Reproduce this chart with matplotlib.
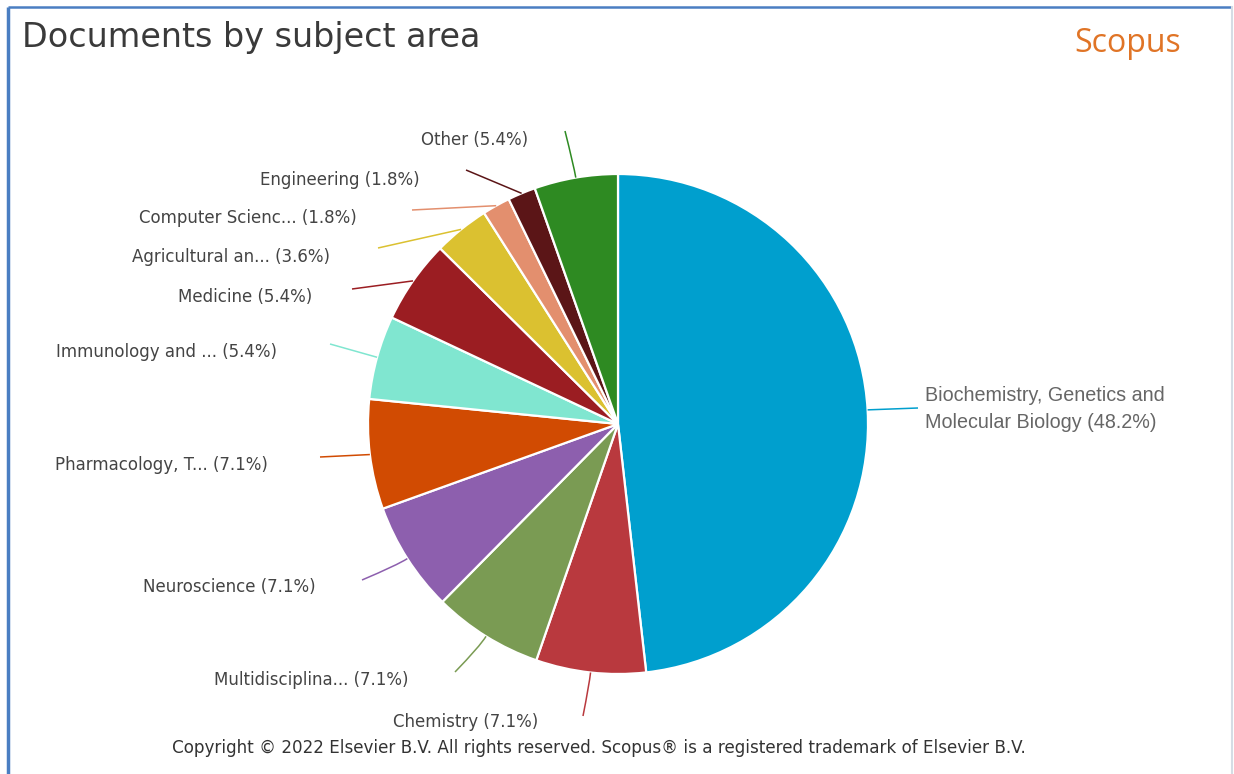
import matplotlib
matplotlib.use("Agg")
import matplotlib.pyplot as plt
from matplotlib.path import Path
from matplotlib.patches import PathPatch
import numpy as np

# ---- data ----
categories = ["Biochemistry, Genetics and\nMolecular Biology", "Chemistry", "Multidisciplina...",
              "Neuroscience", "Pharmacology, T...", "Immunology and ...", "Medicine",
              "Agricultural an...", "Computer Scienc...", "Engineering", "Other"]
shares = [48.2, 7.1, 7.1, 7.1, 7.1, 5.4, 5.4, 3.6, 1.8, 1.8, 5.4]
colors = ["#009FCE", "#B9393E", "#7A9B53", "#8D5FAE", "#D14B02", "#80E6D0",
          "#9B1D22", "#DBC130", "#E38F6E", "#5B1517", "#2E8A22"]

# ---- layout (image pixel coords) ----
W, H = 1234, 774
def Y(y):
    return H - y

cx, cy, R = 618, 424, 250
# label anchor (x, y, ha), leader end point, leader curvature
label_pos = [(925, 409, "left"), (466, 722, "center"), (408, 680, "right"),
             (316, 587, "right"), (268, 465, "right"), (277, 352, "right"),
             (312, 297, "right"), (330, 257, "right"), (357, 218, "right"),
             (420, 180, "right"), (528, 140, "right")]
leader_end = [(918, 408), (583, 716), (455, 672), (362, 580), (320, 457),
              (330, 344), (352, 289), (378, 248), (412, 210), (466, 170), (565, 131)]
curved = [False, True, True, True, False, False, False, False, False, False, True]

fig = plt.figure(figsize=(W / 100, H / 100), dpi=100)
ax = fig.add_axes([0, 0, 1, 1])
wedges, _ = ax.pie(shares, colors=colors, startangle=90, counterclock=False,
                   center=(cx, Y(cy)), radius=R,
                   wedgeprops=dict(edgecolor="white", linewidth=1.6))
ax.set_xlim(0, W)
ax.set_ylim(0, H)
ax.set_aspect("equal")
ax.axis("off")

total = sum(shares)
cum = 0.0
for i, (cat, s) in enumerate(zip(categories, shares)):
    mid = cum + s / 2
    cum += s
    ang = np.deg2rad(90 - 360 * mid / total)
    p0 = (cx + R * np.cos(ang), Y(cy) + R * np.sin(ang))
    pc = (cx + (R + 12) * np.cos(ang), Y(cy) + (R + 12) * np.sin(ang))
    ex, ey = leader_end[i]
    p2 = (ex, Y(ey))
    if curved[i]:
        verts = [p0, pc, p2]
        codes = [Path.MOVETO, Path.CURVE3, Path.CURVE3]
    else:
        verts = [p0, p2]
        codes = [Path.MOVETO, Path.LINETO]
    ax.add_patch(PathPatch(Path(verts, codes), facecolor="none",
                           edgecolor=colors[i], linewidth=1.1))
    lx, ly, ha = label_pos[i]
    txt = f"{cat} ({s}%)"
    if i == 0:
        ax.text(lx, Y(ly), txt, ha=ha, va="center", fontsize=14.2,
                family="Liberation Sans", color="#666666", linespacing=1.5)
    else:
        ax.text(lx, Y(ly), txt, ha=ha, va="center", fontsize=12,
                family="DejaVu Sans", color="#444444")

# title, logo, footer
ax.text(22, Y(38), "Documents by subject area", ha="left", va="center",
        fontsize=24, family="DejaVu Sans", color="#3a3a3a")
ax.text(1128, Y(44), "Scopus", ha="center", va="center", fontsize=23,
        family="Open Sans", color="#E07426")
ax.text(599, Y(748), "Copyright \u00a9 2022 Elsevier B.V. All rights reserved. Scopus\u00ae is a registered trademark of Elsevier B.V.",
        ha="center", va="center", fontsize=12.1, family="DejaVu Sans", color="#333333")

# frame lines
ax.plot([8, 8], [Y(7), 0], color="#4A7EC2", linewidth=2.5, solid_capstyle="butt")
ax.plot([8, 1232], [Y(7), Y(7)], color="#4A7EC2", linewidth=1.8, solid_capstyle="butt")
ax.plot([1232, 1232], [Y(7), 0], color="#D5DCE4", linewidth=1.5)

fig.savefig("out.png", dpi=100)
